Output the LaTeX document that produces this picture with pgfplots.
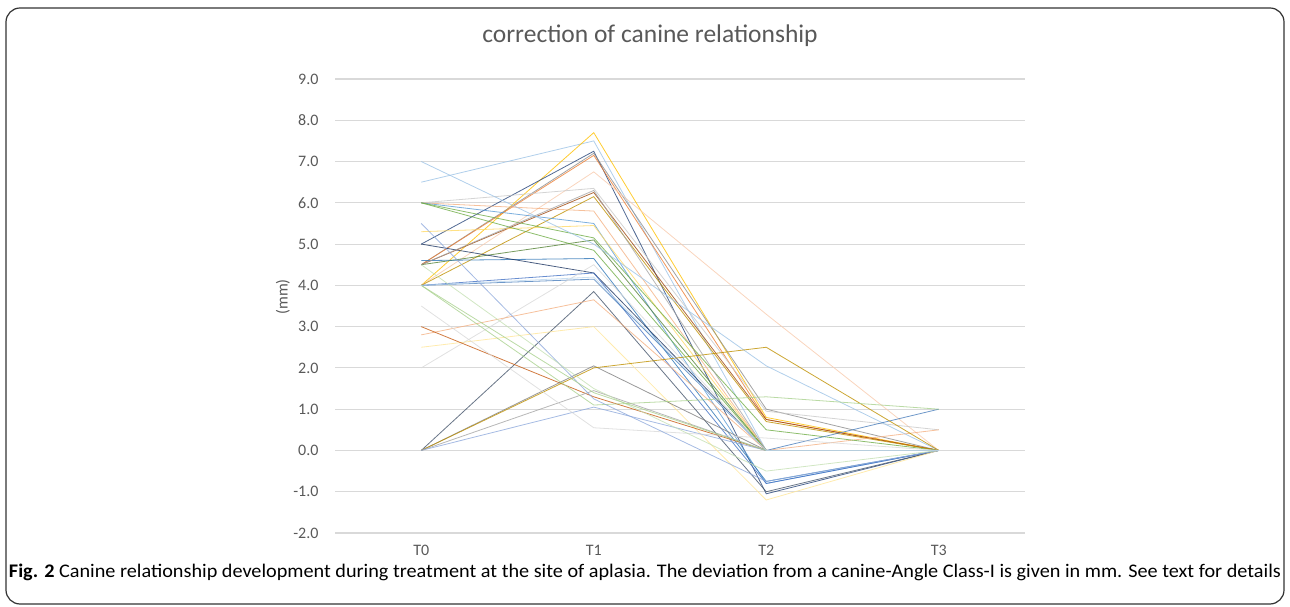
\documentclass[border=0pt]{standalone}
\usepackage{pgfplots}
\pgfplotsset{compat=1.18}
\usepackage{fontspec}
\setmainfont{Carlito}
\definecolor{txt}{HTML}{595959}
\definecolor{c1}{HTML}{9DC3E6}
\definecolor{c2}{HTML}{FFC000}
\definecolor{c3}{HTML}{264478}
\definecolor{c4}{HTML}{8C8C8C}
\definecolor{c5}{HTML}{ED7D31}
\definecolor{c6}{HTML}{F8CBAD}
\definecolor{c7}{HTML}{C9C9C9}
\definecolor{c8}{HTML}{9E480E}
\definecolor{c9}{HTML}{BF9000}
\definecolor{c10}{HTML}{F4B183}
\definecolor{c11}{HTML}{5B9BD5}
\definecolor{c12}{HTML}{FFD966}
\definecolor{c13}{HTML}{70AD47}
\definecolor{c14}{HTML}{548235}
\definecolor{c15}{HTML}{9DC3E6}
\definecolor{c16}{HTML}{2E75B6}
\definecolor{c17}{HTML}{203864}
\definecolor{c18}{HTML}{4472C4}
\definecolor{c19}{HTML}{4A7EBB}
\definecolor{c20}{HTML}{D9D9D9}
\definecolor{c21}{HTML}{44546A}
\definecolor{c22}{HTML}{F4B183}
\definecolor{c23}{HTML}{FFE699}
\definecolor{c24}{HTML}{C55A11}
\definecolor{c25}{HTML}{7F7F7F}
\definecolor{c26}{HTML}{BF9000}
\definecolor{c27}{HTML}{A5A5A5}
\definecolor{c28}{HTML}{8FAADC}
\definecolor{c29}{HTML}{A9D18E}
\definecolor{c30}{HTML}{D9D9D9}
\definecolor{c31}{HTML}{8FAADC}
\definecolor{c32}{HTML}{C5E0B4}
\definecolor{c33}{HTML}{A9D18E}
\definecolor{c34}{HTML}{70AD47}
\definecolor{c35}{HTML}{A5A5A5}
\definecolor{c36}{HTML}{BDD7EE}
\begin{document}
\begin{tikzpicture}
\path[use as bounding box] (0,0) rectangle (1290pt,607pt);
\draw[line width=1.2pt, black!80, rounded corners=14pt] (6pt,3pt) rectangle (1284pt,599pt);
\node[text=txt, font=\fontsize{25.5}{30}\selectfont] at (650pt,571pt) {correction of canine relationship};
\node[anchor=base, inner sep=0pt] at (645pt,29pt) {\resizebox{1272pt}{13.5pt}{\fontsize{17}{20}\selectfont\textbf{Fig. 2} Canine relationship development during treatment at the site of aplasia. The deviation from a canine-Angle Class-I is given in mm. See text for details}};
\begin{axis}[
  at={(335pt,74pt)}, anchor=south west,
  scale only axis, width=690pt, height=454pt,
  xmin=-0.5, xmax=3.5, ymin=-2, ymax=9,
  xtick={0,1,2,3}, xticklabels={T0,T1,T2,T3},
  ytick={-2,-1,0,1,2,3,4,5,6,7,8,9},
  axis line style={draw=none},
  major tick length=0pt,
  ymajorgrids, major grid style={draw=black!15, line width=1.1pt},
  tick label style={text=txt, font=\fontsize{16}{18}\selectfont},
  /pgf/number format/assume math mode=true,
  yticklabel={\pgfmathprintnumber[fixed,fixed zerofill,precision=1,assume math mode=true]{\tick}},
  yticklabel style={anchor=east, xshift=-13pt},
  xticklabel style={anchor=north, yshift=-11pt, inner sep=1pt},
  ylabel={(mm)}, ylabel style={at={(axis description cs:-0.0754,0.52)}, anchor=center, text=txt, font=\fontsize{16}{18}\selectfont},
  every axis plot/.append style={line width=0.8pt, mark=none, opacity=0.8},
]
\addplot[c1] coordinates {(0,6.5)(1,7.5)(2,0.0)(3,0)};
\addplot[c2] coordinates {(0,4.0)(1,7.7)(2,0.8)(3,0)};
\addplot[c3] coordinates {(0,5.0)(1,7.25)(2,-1.05)(3,0)};
\addplot[c4] coordinates {(0,4.5)(1,7.2)(2,1.0)(3,0)};
\addplot[c5] coordinates {(0,4.5)(1,7.15)(2,0.75)(3,0)};
\addplot[c6] coordinates {(0,4.0)(1,6.75)(2,3.3)(3,0)};
\addplot[c7] coordinates {(0,6.0)(1,6.35)(2,0.95)(3,0.5)};
\addplot[c8] coordinates {(0,4.5)(1,6.25)(2,0.75)(3,0)};
\addplot[c9] coordinates {(0,4.0)(1,6.15)(2,0.7)(3,0)};
\addplot[c10] coordinates {(0,6.0)(1,5.8)(2,0.0)(3,0.5)};
\addplot[c11] coordinates {(0,6.0)(1,5.5)(2,-0.8)(3,0)};
\addplot[c12] coordinates {(0,5.3)(1,5.45)(2,0.0)(3,0)};
\addplot[c13] coordinates {(0,6.0)(1,5.15)(2,0.5)(3,0)};
\addplot[c14] coordinates {(0,4.5)(1,5.1)(2,0.0)(3,0)};
\addplot[c15] coordinates {(0,7.0)(1,5.0)(2,2.05)(3,0)};
\addplot[c16] coordinates {(0,4.6)(1,4.65)(2,-0.75)(3,0)};
\addplot[c17] coordinates {(0,5.0)(1,4.3)(2,0.0)(3,0)};
\addplot[c18] coordinates {(0,4.0)(1,4.3)(2,-0.8)(3,0)};
\addplot[c19] coordinates {(0,4.0)(1,4.15)(2,0.0)(3,1.0)};
\addplot[c20] coordinates {(0,2.0)(1,4.5)(2,0.0)(3,0)};
\addplot[c21] coordinates {(0,0.0)(1,3.85)(2,-1.0)(3,0)};
\addplot[c22] coordinates {(0,2.8)(1,3.65)(2,0.0)(3,0)};
\addplot[c23] coordinates {(0,2.5)(1,3.0)(2,-1.2)(3,0)};
\addplot[c24] coordinates {(0,3.0)(1,1.3)(2,0.0)(3,0)};
\addplot[c25] coordinates {(0,0.0)(1,2.05)(2,0.0)(3,0)};
\addplot[c26] coordinates {(0,0.0)(1,2.0)(2,2.5)(3,0)};
\addplot[c27] coordinates {(0,0.0)(1,1.45)(2,0.0)(3,0)};
\addplot[c28] coordinates {(0,0.0)(1,1.05)(2,0.0)(3,0)};
\addplot[c29] coordinates {(0,4.0)(1,1.1)(2,1.3)(3,1.0)};
\addplot[c30] coordinates {(0,3.5)(1,0.55)(2,0.3)(3,0)};
\addplot[c31] coordinates {(0,5.5)(1,1.25)(2,-0.75)(3,0)};
\addplot[c32] coordinates {(0,4.5)(1,1.5)(2,-0.5)(3,0)};
\addplot[c33] coordinates {(0,4.0)(1,1.4)(2,0.0)(3,0)};
\addplot[c34] coordinates {(0,6.0)(1,4.85)(2,0.0)(3,0)};
\addplot[c35] coordinates {(0,4.5)(1,6.3)(2,0.0)(3,0)};
\addplot[c36] coordinates {(0,4.0)(1,4.2)(2,0.0)(3,0)};
\end{axis}
\end{tikzpicture}
\end{document}
